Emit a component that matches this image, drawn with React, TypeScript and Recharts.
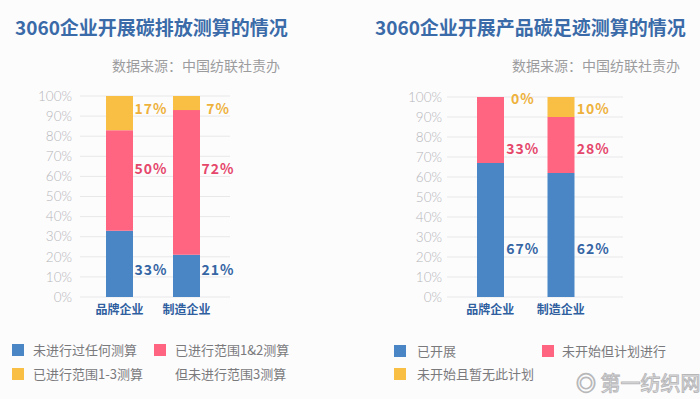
import React from "react";
import { ComposedChart, Bar, Scatter, XAxis, YAxis, CartesianGrid } from "recharts";

// left chart: 碳排放测算
const emissionCategories = ["品牌企业", "制造企业"];
const emissionNone = [33, 21];
const emissionScope12 = [50, 72];
const emissionScope13 = [17, 7];
// where each value label sits, in y-axis units (%)
const emissionNoneLabelAt = [14, 14];
const emissionScope12LabelAt = [64, 64];
const emissionScope13LabelAt = [94, 94];

// right chart: 产品碳足迹测算
const footprintCategories = ["品牌企业", "制造企业"];
const footprintStarted = [67, 62];
const footprintPlanned = [33, 28];
const footprintNoPlan = [0, 10];
const footprintStartedLabelAt = [24.5, 24.5];
const footprintPlannedLabelAt = [74.5, 74.5];
const footprintNoPlanLabelAt = [99.5, 94.5];

const percentTicks = [0, 10, 20, 30, 40, 50, 60, 70, 80, 90, 100];

const BLUE = "#4a86c6";
const PINK = "#ff6581";
const YELLOW = "#f9bf45";
const BLUE_TEXT = "#3565a3";
const PINK_TEXT = "#e5476b";
const YELLOW_TEXT = "#eeb23c";
const BAR_SIZE = 27;
const CJK = "'Noto Sans CJK SC', 'Noto Sans', sans-serif";

const makeRows = (
  cats: string[],
  a: number[],
  b: number[],
  c: number[],
  la: number[],
  lb: number[],
  lc: number[]
) =>
  cats.map((name, i) => ({ name, a: a[i], b: b[i], c: c[i], la: la[i], lb: lb[i], lc: lc[i] }));

const emissionRows = makeRows(
  emissionCategories,
  emissionNone,
  emissionScope12,
  emissionScope13,
  emissionNoneLabelAt,
  emissionScope12LabelAt,
  emissionScope13LabelAt
);
const footprintRows = makeRows(
  footprintCategories,
  footprintStarted,
  footprintPlanned,
  footprintNoPlan,
  footprintStartedLabelAt,
  footprintPlannedLabelAt,
  footprintNoPlanLabelAt
);

const valueLabel = (key: string, color: string, dx: number) => (props: any) => {
  const { cx, cy, payload } = props;
  if (cx == null || cy == null) return <g />;
  return (
    <text
      x={cx + BAR_SIZE / 2 + dx}
      y={cy}
      textAnchor="middle"
      dominantBaseline="central"
      fill={color}
      fontSize={14}
      fontWeight={700}
      letterSpacing={1}
      fontFamily={CJK}
    >
      {payload[key]}%
    </text>
  );
};

interface StackProps {
  rows: any[];
  width: number;
  top: number;
  axisWidth: number;
  tickSize: number;
  padding: { left: number; right: number };
  labelDx: number;
}

const StackChart: React.FC<StackProps> = ({ rows, width, top, axisWidth, tickSize, padding, labelDx }) => (
  <ComposedChart width={width} height={330} data={rows} margin={{ top, right: 10, bottom: 13, left: 0 }}>
    <CartesianGrid vertical={false} stroke="#e8e8ea" />
    <XAxis
      dataKey="name"
      axisLine={false}
      tickLine={false}
      height={20}
      padding={padding}
      tick={{ fill: "#2f5f9f", fontSize: 12, fontWeight: 700, fontFamily: CJK }}
    />
    <YAxis
      width={axisWidth}
      domain={[0, 100]}
      ticks={percentTicks}
      tickFormatter={(v) => `${v}%`}
      axisLine={false}
      tickLine={false}
      tickSize={tickSize}
      interval={0}
      tick={{ fill: "#b6b6b9", fontSize: 13.5, fontWeight: 300, fontFamily: "Lato, 'Noto Sans', sans-serif" }}
    />
    <Bar dataKey="a" stackId="s" fill={BLUE} barSize={BAR_SIZE} isAnimationActive={false} />
    <Bar dataKey="b" stackId="s" fill={PINK} barSize={BAR_SIZE} isAnimationActive={false} />
    <Bar dataKey="c" stackId="s" fill={YELLOW} barSize={BAR_SIZE} isAnimationActive={false} />
    <Scatter dataKey="la" shape={valueLabel("a", BLUE_TEXT, labelDx)} isAnimationActive={false} />
    <Scatter dataKey="lb" shape={valueLabel("b", PINK_TEXT, labelDx)} isAnimationActive={false} />
    <Scatter dataKey="lc" shape={valueLabel("c", YELLOW_TEXT, labelDx)} isAnimationActive={false} />
  </ComposedChart>
);

const Swatch: React.FC<{ x: number; y: number; color: string }> = ({ x, y, color }) => (
  <div style={{ position: "absolute", left: x, top: y - 6, width: 12, height: 12, background: color }} />
);

const LegendText: React.FC<{ x: number; y: number; text: string }> = ({ x, y, text }) => (
  <div
    style={{
      position: "absolute",
      left: x,
      top: y - 9,
      fontSize: 13,
      lineHeight: "18px",
      color: "#7a7a7c",
      fontFamily: CJK,
      whiteSpace: "nowrap",
    }}
  >
    {text}
  </div>
);

const titleStyle: React.CSSProperties = {
  position: "absolute",
  top: 16,
  fontSize: 19,
  lineHeight: "22px",
  fontWeight: 700,
  color: "#3a6ba8",
  fontFamily: CJK,
  whiteSpace: "nowrap",
};

const sourceStyle: React.CSSProperties = {
  position: "absolute",
  top: 56,
  width: 200,
  textAlign: "right",
  fontSize: 14,
  lineHeight: "18px",
  color: "#9c9c9e",
  fontFamily: CJK,
  whiteSpace: "nowrap",
};

export default function App() {
  return (
    <div
      style={{
        position: "absolute",
        left: 0,
        top: 0,
        width: 700,
        height: 399,
        background: "#fcfcfd",
        overflow: "hidden",
      }}
    >
      <div style={{ ...titleStyle, left: 15 }}>3060企业开展碳排放测算的情况</div>
      <div style={{ ...titleStyle, left: 375 }}>3060企业开展产品碳足迹测算的情况</div>
      <div style={{ ...sourceStyle, left: 80 }}>数据来源：中国纺联社责办</div>
      <div style={{ ...sourceStyle, left: 480 }}>数据来源：中国纺联社责办</div>

      <div style={{ position: "absolute", left: 0, top: 0 }}>
        <StackChart
          rows={emissionRows}
          width={240}
          top={96}
          axisWidth={80}
          tickSize={6}
          padding={{ left: 6, right: 10 }}
          labelDx={18}
        />
      </div>
      <div style={{ position: "absolute", left: 380, top: 0 }}>
        <StackChart
          rows={footprintRows}
          width={253}
          top={97}
          axisWidth={67}
          tickSize={3}
          padding={{ left: 8, right: 27 }}
          labelDx={19}
        />
      </div>

      {/* left legend */}
      <Swatch x={12} y={350} color={BLUE} />
      <LegendText x={33} y={350} text="未进行过任何测算" />
      <Swatch x={154} y={350} color={PINK} />
      <LegendText x={175} y={350} text="已进行范围1&2测算" />
      <Swatch x={12} y={374} color={YELLOW} />
      <LegendText x={33} y={374} text="已进行范围1-3测算" />
      <LegendText x={175} y={374} text="但未进行范围3测算" />

      {/* right legend */}
      <Swatch x={394} y={351} color={BLUE} />
      <LegendText x={417} y={351} text="已开展" />
      <Swatch x={542} y={351} color={PINK} />
      <LegendText x={562} y={351} text="未开始但计划进行" />
      <Swatch x={394} y={374} color={YELLOW} />
      <LegendText x={417} y={374} text="未开始且暂无此计划" />

      {/* watermark */}
      <div
        style={{
          position: "absolute",
          left: 576,
          top: 370,
          fontSize: 20,
          lineHeight: "26px",
          color: "#f4f4f5",
          WebkitTextStroke: "1px #b8b8ba",
          fontFamily: CJK,
          whiteSpace: "nowrap",
        }}
      >
        ◎ 第一纺织网
      </div>
    </div>
  );
}
